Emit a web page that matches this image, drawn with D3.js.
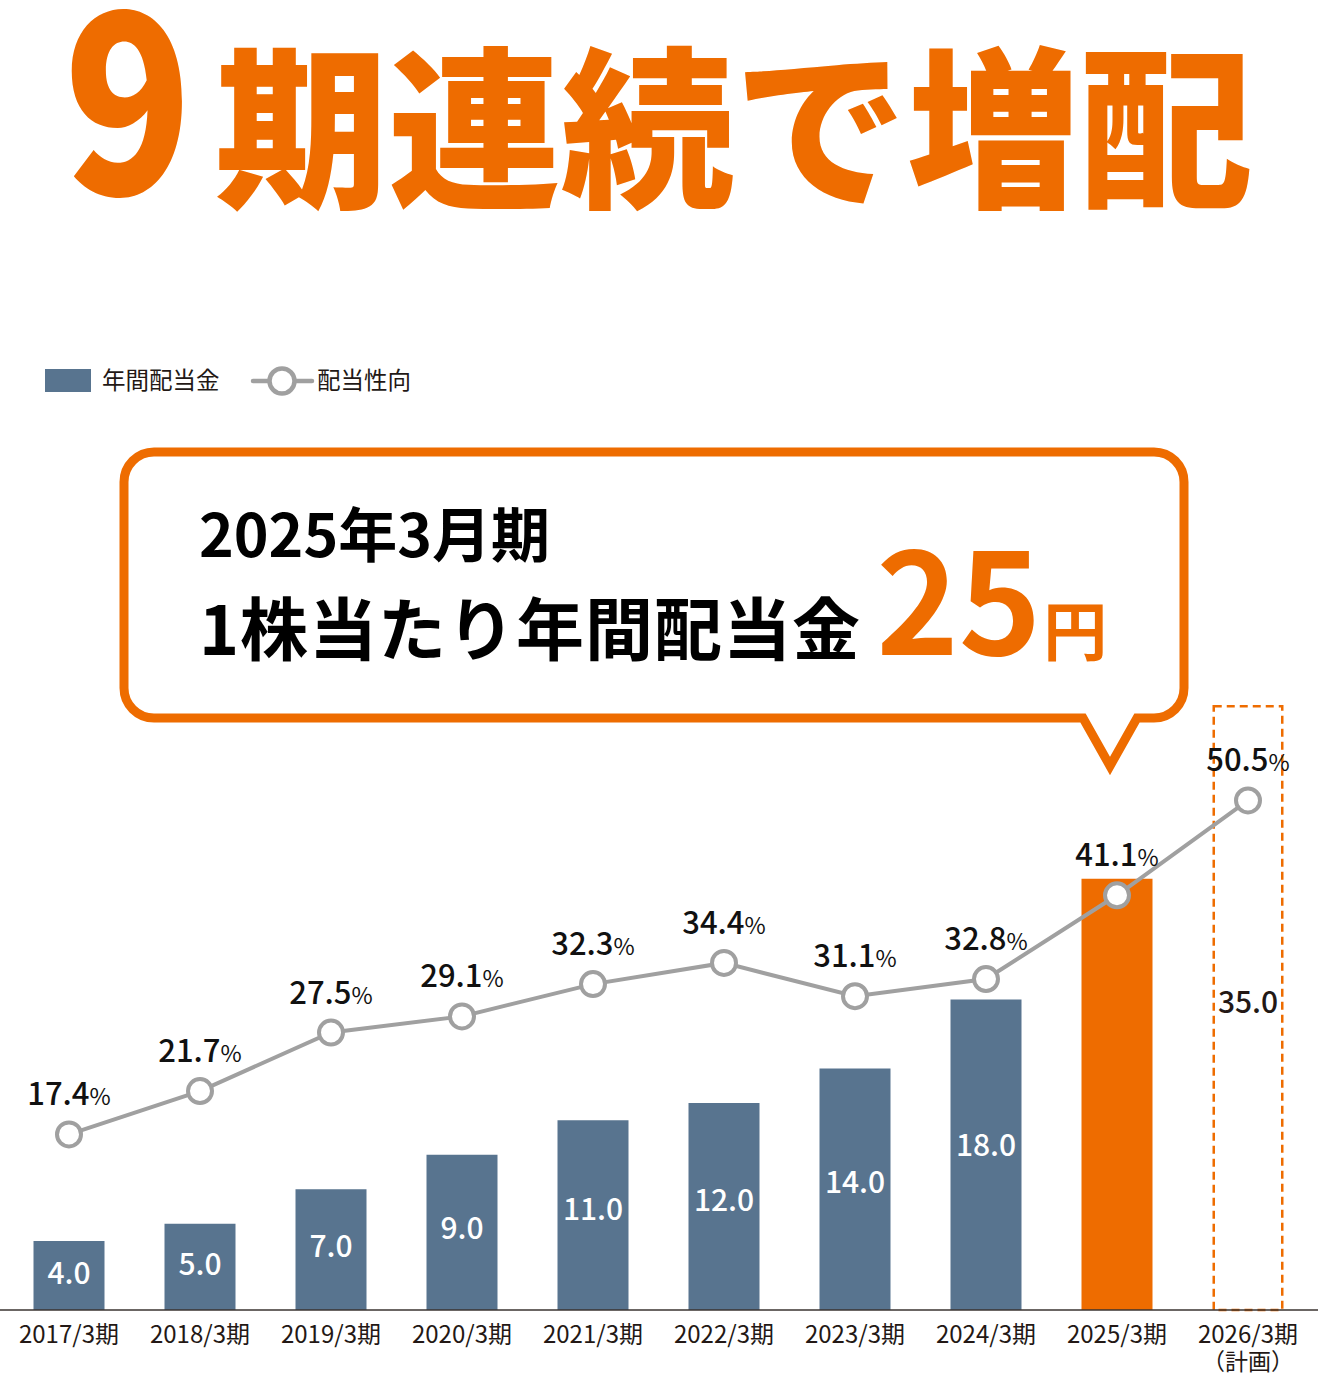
<!DOCTYPE html>
<html lang="ja">
<head>
<meta charset="utf-8">
<script src="https://cdn.jsdelivr.net/npm/d3@7"></script>
<style>
  html, body { margin: 0; padding: 0; background: #fff; }
  svg { display: block; }
  text { font-family: "Noto Sans CJK JP", "Noto Sans", sans-serif; }
</style>
</head>
<body>
<div id="chart"></div>
<script>
// chart data
const periods = ['2017/3期', '2018/3期', '2019/3期', '2020/3期', '2021/3期',
                 '2022/3期', '2023/3期', '2024/3期', '2025/3期', '2026/3期'];
const periodNotes = ['', '', '', '', '', '', '', '', '', '（計画）'];
const dividends = [4.0, 5.0, 7.0, 9.0, 11.0, 12.0, 14.0, 18.0, 25.0, 35.0];
const payoutRatios = [17.4, 21.7, 27.5, 29.1, 32.3, 34.4, 31.1, 32.8, 41.1, 50.5];
const legendLabels = ['年間配当金', '配当性向'];

const ORANGE = '#EE6C00';
const BLUE = '#58748F';
const GRAY = '#A0A0A0';
const INK = '#231815';

const width = 1318, height = 1375;
const baseY = 1310;

const svg = d3.select('#chart')
    .append('svg')
    .attr('width', width)
    .attr('height', height);

// Headline
svg.append('text')
    .attr('transform', 'translate(128,195) scale(0.86,1)')
    .attr('text-anchor', 'middle')
    .attr('font-size', 245)
    .attr('font-weight', 900)
    .attr('fill', ORANGE)
    .text('9');

svg.append('text')
    .attr('x', 215)
    .attr('y', 194)
    .attr('font-size', 173)
    .attr('font-weight', 900)
    .attr('fill', ORANGE)
    .text('期連続で増配');

// Legend
const legend = svg.append('g');
legend.append('rect')
    .attr('x', 45).attr('y', 369)
    .attr('width', 46).attr('height', 23)
    .attr('fill', BLUE);
legend.append('text')
    .attr('x', 102).attr('y', 389)
    .attr('font-size', 23.5)
    .attr('fill', INK)
    .text(legendLabels[0]);
legend.append('line')
    .attr('x1', 253).attr('x2', 312)
    .attr('y1', 381).attr('y2', 381)
    .attr('stroke', GRAY).attr('stroke-width', 4.5)
    .attr('stroke-linecap', 'round');
legend.append('circle')
    .attr('cx', 282).attr('cy', 381).attr('r', 12.5)
    .attr('fill', '#fff')
    .attr('stroke', GRAY).attr('stroke-width', 4.5);
legend.append('text')
    .attr('x', 317).attr('y', 389)
    .attr('font-size', 23.5)
    .attr('fill', INK)
    .text(legendLabels[1]);

// Scales
const x = d3.scaleBand()
    .domain(periods)
    .range([3.5, 1313.5])
    .paddingInner(0.458)
    .paddingOuter(0.229);

const yBar = d3.scaleLinear()
    .domain([0, 40])
    .range([baseY, baseY - 40 * 17.25]);

const yRatio = d3.scaleLinear()
    .domain([0, 60])
    .range([baseY, baseY - 60 * 10.09]);

const rows = periods.map((p, i) => ({
    period: p, note: periodNotes[i], value: dividends[i], ratio: payoutRatios[i], i
}));
const lastIdx = rows.length - 1;
const currentIdx = rows.length - 2;

// Bars
const bars = svg.append('g');
bars.selectAll('rect.bar')
    .data(rows.filter(d => d.i < lastIdx))
    .join('rect')
    .attr('class', 'bar')
    .attr('x', d => x(d.period))
    .attr('y', d => yBar(d.value))
    .attr('width', x.bandwidth())
    .attr('height', d => baseY - yBar(d.value))
    .attr('fill', d => d.i === currentIdx ? ORANGE : BLUE);

// planned bar (dashed outline)
const plan = rows[lastIdx];
bars.append('rect')
    .attr('x', x(plan.period) + 1.25)
    .attr('y', yBar(plan.value))
    .attr('width', x.bandwidth() - 2.5)
    .attr('height', baseY - yBar(plan.value))
    .attr('fill', 'none')
    .attr('stroke', ORANGE)
    .attr('stroke-width', 2.5)
    .attr('stroke-dasharray', '8,5');

// bar value labels, about the middle of each bar
bars.selectAll('text.val')
    .data(rows.filter(d => d.i !== currentIdx))
    .join('text')
    .attr('class', 'val')
    .attr('x', d => x(d.period) + x.bandwidth() / 2)
    .attr('y', d => {
        const f = d.i === lastIdx ? 0.49 : 0.47;
        return yBar(d.value) + f * (baseY - yBar(d.value)) + 11;
    })
    .attr('text-anchor', 'middle')
    .attr('font-size', 30)
    .attr('font-weight', 500)
    .attr('fill', d => d.i === lastIdx ? INK : '#fff')
    .text(d => d.value.toFixed(1));

// Baseline axis
svg.append('line')
    .attr('x1', 0).attr('x2', width)
    .attr('y1', baseY).attr('y2', baseY)
    .attr('stroke', '#3a3330').attr('stroke-width', 1.5);

const xAxis = svg.append('g');
xAxis.selectAll('text.tick')
    .data(rows)
    .join('text')
    .attr('class', 'tick')
    .attr('x', d => x(d.period) + x.bandwidth() / 2)
    .attr('y', 1343)
    .attr('text-anchor', 'middle')
    .attr('font-size', 24)
    .attr('fill', INK)
    .text(d => d.period);
xAxis.selectAll('text.note')
    .data(rows.filter(d => d.note))
    .join('text')
    .attr('class', 'note')
    .attr('x', d => x(d.period) + x.bandwidth() / 2)
    .attr('y', 1370)
    .attr('text-anchor', 'middle')
    .attr('font-size', 23)
    .attr('fill', INK)
    .text(d => d.note);

// Payout ratio line
const line = d3.line()
    .x(d => x(d.period) + x.bandwidth() / 2)
    .y(d => yRatio(d.ratio));

svg.append('path')
    .datum(rows)
    .attr('d', line)
    .attr('fill', 'none')
    .attr('stroke', GRAY)
    .attr('stroke-width', 4);

svg.selectAll('circle.pt')
    .data(rows)
    .join('circle')
    .attr('class', 'pt')
    .attr('cx', d => x(d.period) + x.bandwidth() / 2)
    .attr('cy', d => yRatio(d.ratio))
    .attr('r', 12)
    .attr('fill', '#fff')
    .attr('stroke', GRAY)
    .attr('stroke-width', 4);

const ratioLabels = svg.selectAll('text.ratio')
    .data(rows)
    .join('text')
    .attr('class', 'ratio')
    .attr('x', d => x(d.period) + x.bandwidth() / 2)
    .attr('y', d => yRatio(d.ratio) - 29)
    .attr('text-anchor', 'middle')
    .attr('fill', '#111');
ratioLabels.append('tspan')
    .attr('font-size', 31)
    .attr('font-weight', 500)
    .text(d => d.ratio.toFixed(1));
ratioLabels.append('tspan')
    .attr('font-size', 23)
    .text('%');

// Callout balloon
const cx0 = 124, cx1 = 1184, cy0 = 452, cy1 = 718, r = 30;
const tipX = 1110, tipHalf = 27, tipY = 766;
const p = d3.path();
p.moveTo(cx0 + r, cy0);
p.lineTo(cx1 - r, cy0);
p.arcTo(cx1, cy0, cx1, cy0 + r, r);
p.lineTo(cx1, cy1 - r);
p.arcTo(cx1, cy1, cx1 - r, cy1, r);
p.lineTo(tipX + tipHalf, cy1);
p.lineTo(tipX, tipY);
p.lineTo(tipX - tipHalf, cy1);
p.lineTo(cx0 + r, cy1);
p.arcTo(cx0, cy1, cx0, cy1 - r, r);
p.lineTo(cx0, cy0 + r);
p.arcTo(cx0, cy0, cx0 + r, cy0, r);
p.closePath();

svg.append('path')
    .attr('d', p.toString())
    .attr('fill', '#fff')
    .attr('stroke', ORANGE)
    .attr('stroke-width', 9)
    .attr('stroke-linejoin', 'miter');

svg.append('text')
    .attr('x', 199)
    .attr('y', 557)
    .attr('font-size', 59)
    .attr('font-weight', 700)
    .attr('fill', '#000')
    .text('2025年3月期');

const big = svg.append('text')
    .attr('x', 199)
    .attr('y', 655)
    .attr('font-weight', 700)
    .attr('fill', '#000');
big.append('tspan')
    .attr('font-size', 68)
    .attr('letter-spacing', 1)
    .text('1株当たり年間配当金');
big.append('tspan')
    .attr('dx', 15)
    .attr('font-size', 140)
    .attr('letter-spacing', 0)
    .attr('fill', ORANGE)
    .text('25');
big.append('tspan')
    .attr('dx', 2)
    .attr('font-size', 64)
    .attr('fill', ORANGE)
    .text('円');
</script>
</body>
</html>
